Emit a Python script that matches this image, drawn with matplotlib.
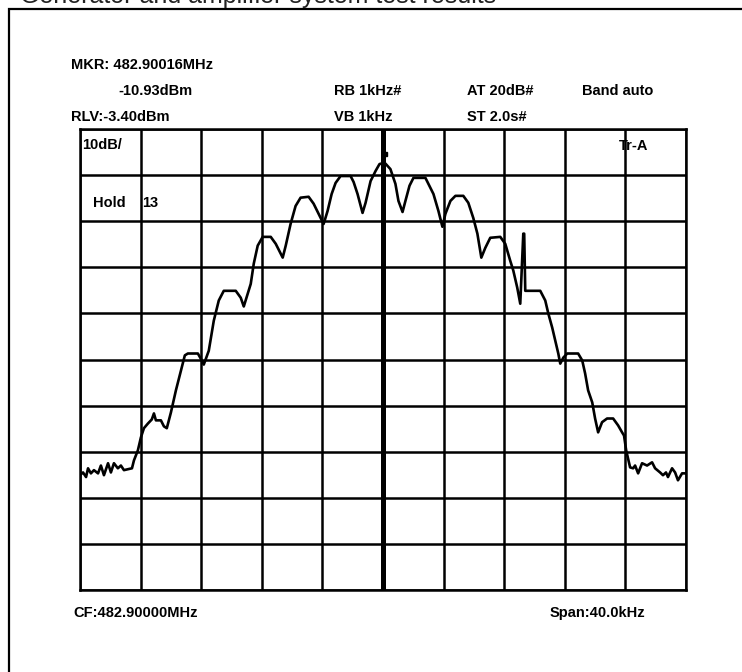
import numpy as np
import matplotlib
matplotlib.use("Agg")
from matplotlib import pyplot as plt
from matplotlib import transforms
from matplotlib.patches import Rectangle

plt.rcParams['font.family'] = ['Liberation Sans', 'DejaVu Sans']

# ------ analyzer settings
ref_level = -3.40      # dBm, top of screen
db_per_div = 10
span_khz = 40.0
n_div = 10
mkr_offset_khz = 0.16  # 482.90016 MHz - 482.90000 MHz
mkr_level = -10.93

# ------ trace (offset from CF in kHz, level in dBm)
freq_khz = [-20.0, -19.80, -19.60, -19.47, -19.28, -19.08, -18.81, -18.62, -18.42, -18.15,
            -17.96, -17.76, -17.50, -17.30, -17.10, -16.84, -16.57, -16.44, -16.18, -15.98,
            -15.78, -15.52, -15.26, -15.12, -14.99, -14.66, -14.46, -14.27, -14.00, -13.67,
            -13.34, -13.08, -12.88, -12.22, -12.03, -11.83, -11.50, -11.17, -10.84, -10.51,
            -9.72, -9.39, -9.19, -8.93, -8.73, -8.53, -8.27, -7.94, -7.41, -7.08,
            -6.62, -6.42, -6.10, -5.77, -5.44, -4.91, -4.58, -4.25, -3.92, -3.66,
            -3.39, -3.13, -2.80, -2.14, -1.94, -1.68, -1.35, -1.15, -0.82, -0.49,
            -0.23, 0.03, 0.16, 0.49, 0.82, 1.02, 1.29, 1.48, 1.75, 2.01,
            2.80, 3.06, 3.33, 3.66, 3.92, 4.12, 4.45, 4.78, 5.30, 5.63,
            5.96, 6.23, 6.49, 6.75, 7.08, 7.74, 8.07, 8.40, 8.60, 8.86,
            9.06, 9.26, 9.32, 9.39, 9.59, 10.38, 10.71, 10.91, 11.17, 11.37,
            11.57, 11.70, 11.90, 12.16, 12.88, 13.15, 13.34, 13.54, 13.81, 14.00,
            14.20, 14.46, 14.79, 15.19, 15.52, 15.78, 15.91, 16.05, 16.31, 16.51,
            16.64, 16.84, 17.10, 17.43, 17.76, 17.96, 18.29, 18.48, 18.68, 18.81,
            19.08, 19.28, 19.47, 19.74, 20.0]
level_dbm = [-78.5, -77.9, -78.9, -77.0, -78.1, -77.4, -78.1, -76.4, -78.5, -75.9,
             -77.9, -75.9, -77.0, -76.4, -77.4, -77.2, -77.0, -75.3, -73.1, -70.3,
             -68.3, -67.3, -66.4, -65.1, -66.6, -66.6, -67.9, -68.3, -64.9, -60.1,
             -55.8, -52.5, -52.1, -52.1, -53.2, -54.5, -51.5, -45.0, -40.6, -38.5,
             -38.5, -40.0, -41.9, -39.1, -37.0, -32.6, -28.7, -26.8, -26.8, -28.3,
             -31.3, -28.7, -24.0, -20.1, -18.3, -18.1, -19.6, -21.8, -24.0, -21.2,
             -17.5, -15.1, -13.6, -13.6, -14.9, -17.5, -21.6, -19.4, -14.7, -12.5,
             -11.0, -10.8, -10.9, -12.1, -15.3, -19.0, -21.4, -19.0, -15.7, -14.0,
             -14.0, -15.7, -17.5, -21.2, -24.6, -21.8, -19.0, -17.9, -17.9, -19.4,
             -22.7, -26.1, -31.3, -29.2, -27.0, -26.8, -28.3, -32.0, -34.1, -37.8,
             -41.3, -26.1, -26.1, -38.5, -38.5, -38.5, -40.6, -43.4, -46.5, -49.3,
             -52.1, -54.3, -53.0, -52.1, -52.1, -53.6, -56.4, -60.1, -62.7, -66.2,
             -69.2, -67.0, -66.2, -66.2, -67.7, -69.2, -69.9, -73.1, -76.8, -77.0,
             -76.4, -78.1, -75.9, -76.4, -75.7, -77.0, -77.9, -78.5, -77.9, -78.9,
             -77.0, -77.9, -79.6, -78.1, -78.1]

title = "Generator and amplifier system test results"
rows_top = [("MKR: 482.90016MHz", 71, 65)]
rows_info = [("-10.93dBm", 118, 91), ("RB 1kHz#", 334, 91), ("AT 20dB#", 467, 91),
             ("Band auto", 582, 91), ("RLV:-3.40dBm", 71, 117), ("VB 1kHz", 334, 117),
             ("ST 2.0s#", 467, 117)]
rows_screen = [("10dB/", 82, 145), ("Tr-A", 619, 146), ("Hold", 93, 203), ("13", 142, 203)]
rows_bottom = [("CF:482.90000MHz", 73, 613), ("Span:40.0kHz", 550, 613)]

W, H = 742, 672
fig = plt.figure(figsize=(W / 100, H / 100), dpi=100)

# ------ screen area in pixels
x0, x1, y0, y1 = 80, 686, 129, 590
ax = fig.add_axes([x0 / W, 1 - y1 / H, (x1 - x0) / W, (y1 - y0) / H])

bottom_level = ref_level - n_div * db_per_div
ax.set_xlim(-span_khz / 2, span_khz / 2)
ax.set_ylim(bottom_level, ref_level)
ax.set_xticks(np.linspace(-span_khz / 2, span_khz / 2, n_div + 1))
ax.set_yticks(np.linspace(bottom_level, ref_level, n_div + 1))
ax.tick_params(length=0, labelbottom=False, labelleft=False)
ax.grid(True, color='black', linewidth=1.8)
for s in ax.spines.values():
    s.set_linewidth(1.8)
ax.axvline(0, color='black', linewidth=3.6, zorder=3)

ax.plot(freq_khz, level_dbm, color='black', linewidth=1.9, zorder=4)

# marker symbol sits a little above the trace
tr = transforms.offset_copy(ax.transData, fig=fig, x=0, y=10, units='dots')
ax.plot([mkr_offset_khz], [mkr_level], marker='s', markersize=2.5, color='black',
        transform=tr, zorder=5)

def put(txt, px, py):
    fig.text(px / W, 1 - py / H, txt, fontsize=10.5, fontweight='bold',
             va='center', ha='left')

for t in rows_top + rows_info + rows_screen + rows_bottom:
    put(*t)

# outer frame (runs off the right and bottom of the picture)
fig.add_artist(Rectangle((8.5 / W, -0.2), 1.2, 1.2 - 8.5 / H, transform=fig.transFigure,
                         fill=False, edgecolor='black', linewidth=1.6))
# caption above the frame, cut by the top edge like in the original
fig.text(20 / W, 1 - 2.5 / H, title, fontsize=18, va='baseline', ha='left', color='#222222')

fig.savefig('out.png', dpi=100)
